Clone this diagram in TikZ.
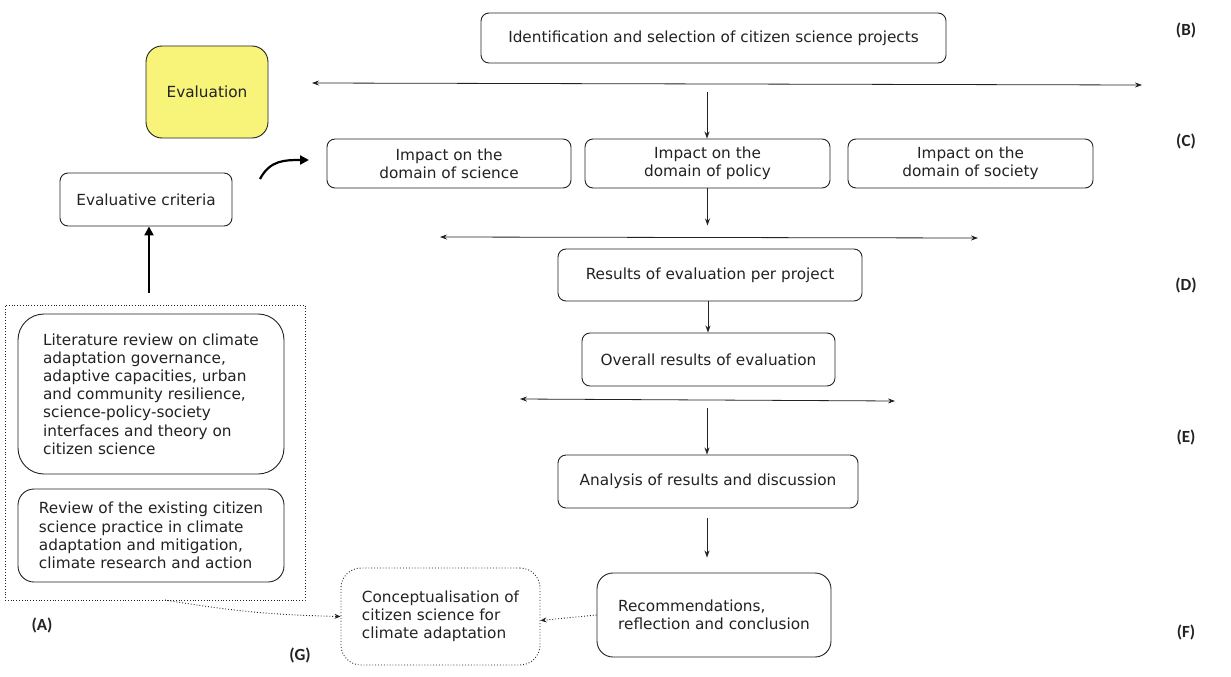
\documentclass[tikz,border=0pt]{standalone}
\usepackage{fontspec}
\setmainfont{DejaVu Sans}
\newfontfamily\labelfont{Carlito}
\definecolor{evalyellow}{HTML}{F8F47A}
\definecolor{ink}{HTML}{222222}
\usetikzlibrary{positioning,arrows.meta,calc}

\begin{document}
\begin{tikzpicture}[x=1pt,y=-1pt,
      every node/.style={font=\fontsize{15.3}{18.2}\selectfont,text=ink},
      box/.style={draw=ink,fill=white,rounded corners=8pt,line width=0.9pt,inner sep=4pt},
      bigbox/.style={box,rounded corners=16pt},
      side/.style={font=\labelfont\bfseries\fontsize{17}{19}\selectfont},
      flow/.style={-{Stealth[length=7pt,width=5pt]},line width=0.8pt,ink},
      split/.style={{Stealth[length=7pt,width=5pt]}-{Stealth[length=7pt,width=5pt]},line width=0.8pt,ink},
      fat/.style={-{Triangle[length=9pt,width=9pt]},line width=2.2pt},
      hint/.style={-{Stealth[length=6pt,width=5pt]},dotted,line width=0.9pt,ink}]
    \useasboundingbox (0,0) rectangle (1231,677);
    % main column
    \node[box,minimum width=465pt,minimum height=50pt] (ident) at (713.5,38)
      {Identification and selection of citizen science projects};
    \node[box,minimum width=244pt,minimum height=49pt,align=center] (sci) at (449,163.5)
      {Impact on the\\domain of science};
    \node[box,minimum width=245pt,minimum height=49pt,align=center] (pol) at (707.5,163.5)
      {Impact on the\\domain of policy};
    \node[box,minimum width=245pt,minimum height=49pt,align=center] (soc) at (970.5,163.5)
      {Impact on the\\domain of society};
    \node[box,minimum width=304pt,minimum height=52pt] (perproj) at (710,275)
      {Results of evaluation per project};
    \node[box,minimum width=253pt,minimum height=53pt] (overall) at (708.5,359.5)
      {Overall results of evaluation};
    \node[box,minimum width=300pt,minimum height=53pt] (analysis) at (708,481.5)
      {Analysis of results and discussion};
    \node[bigbox,minimum width=234pt,minimum height=84pt,align=left] (recom) at (714,615)
      {Recommendations,\\reflection and conclusion};
    % left column
    \node[bigbox,fill=evalyellow,minimum width=122pt,minimum height=92pt] (eval) at (207,92)
      {Evaluation};
    \node[box,minimum width=172pt,minimum height=53pt] (crit) at (146,199.5)
      {Evaluative criteria};
    \node[box,rounded corners=26pt,minimum width=266pt,minimum height=160pt,align=left] (lit) at (151,394)
      {Literature review on climate\\adaptation governance,\\adaptive capacities, urban\\and community resilience,\\science-policy-society\\interfaces and theory on\\citizen science};
    \node[bigbox,minimum width=266pt,minimum height=93pt,align=left] (rev) at (151,535.5)
      {Review of the existing citizen\\science practice in climate\\adaptation and mitigation,\\climate research and action};
    \node[draw=ink,dotted,line width=0.8pt,minimum width=300pt,minimum height=295pt] (groupA) at (155,452.5) {};
    \node[draw=ink,dotted,line width=0.9pt,rounded corners=20pt,minimum width=199pt,minimum height=97pt,align=left] (concept) at (440.5,616.5)
      {Conceptualisation of\\citizen science for\\climate adaptation};
    % stage labels
    \node[side] (lA) at (42,625) {(A)};
    \node[side] (lB) at (1186,30) {(B)};
    \node[side] (lC) at (1186,141) {(C)};
    \node[side] (lD) at (1186,285) {(D)};
    \node[side] (lE) at (1186,437) {(E)};
    \node[side] (lF) at (1186,632) {(F)};
    \node[side] (lG) at (300,655) {(G)};
    % free ends of the connectors
    \coordinate (b1) at (312,83);   \coordinate (b2) at (1142,85);
    \coordinate (c1) at (440,237);  \coordinate (c2) at (978,238);
    \coordinate (d1) at (520,399);  \coordinate (d2) at (895,401);
    \coordinate (bt) at (707,92);
    \coordinate (ct) at (708,301);
    \coordinate (dt) at (707,408);
    \coordinate (et) at (707,518);
    \coordinate (hookA) at (260,179); \coordinate (hookB) at (309,160);
    \coordinate (upA) at (149,293);
    \coordinate (aout) at (165,600);
    % connectors
    \draw[split] (b1) -- (b2);
    \draw[flow] (bt) -- (bt |- pol.north);
    \draw[flow] (pol.south) -- ($(pol.south)+(0,37)$);
    \draw[split] (c1) -- (c2);
    \draw[flow] (ct) -- (ct |- overall.north);
    \draw[split] (d1) -- (d2);
    \draw[flow] (dt) -- (dt |- analysis.north);
    \draw[flow] (et) -- ($(et |- recom.north)+(0,-15)$);
    \draw[fat] (hookA) .. controls (270,160) and (285,160) .. (hookB);
    \draw[fat] (upA) -- (upA |- crit.south);
    \draw[hint] (aout) to[bend right=4] (concept.west);
    \draw[hint] (recom.west) -- ($(concept.east)+(0,4)$);
  \end{tikzpicture}
\end{document}
